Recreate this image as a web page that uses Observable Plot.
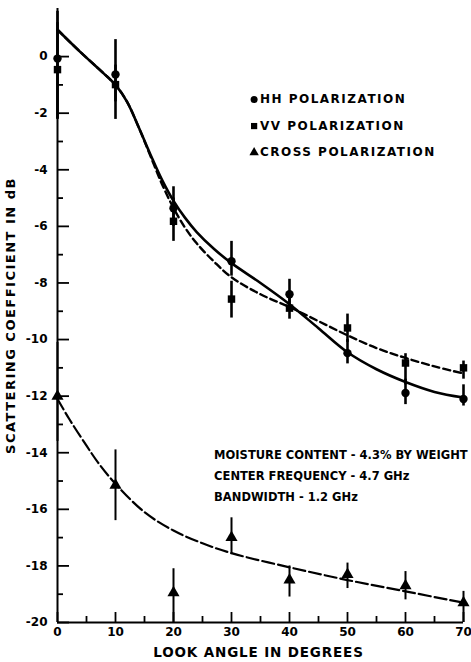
<!DOCTYPE html>
<html><head><meta charset="utf-8">
<script src="https://cdn.jsdelivr.net/npm/d3@7"></script>
<script src="https://cdn.jsdelivr.net/npm/@observablehq/plot@0.6"></script>
<style>
html,body{margin:0;padding:0;background:#fff;overflow:hidden}
</style>
</head><body><div id="chart"></div>
<script>
// measured look angles (degrees)
const angles = [0, 10, 20, 30, 40, 50, 60, 70];
// HH polarization (dB) with error bar extents
const hhValues = [-0.07, -0.63, -5.36, -7.23, -8.40, -10.48, -11.89, -12.10];
const hhHigh   = [1.6, 0.6, -4.6, -6.53, -7.87, -10.0, -11.4, -11.6];
const hhLow    = [-2.2, -1.6, -6.0, -7.76, -8.9, -10.86, -12.3, -12.35];
// VV polarization (dB)
const vvValues = [-0.46, -0.99, -5.82, -8.57, -8.89, -9.59, -10.83, -11.00];
const vvHigh   = [1.2, -0.3, -5.0, -7.94, -8.3, -9.1, -10.5, -10.76];
const vvLow    = [-2.22, -2.22, -6.53, -9.24, -9.28, -10.1, -11.6, -11.4];
// Cross polarization (dB)
const crossValues = [-12.0, -15.15, -18.95, -17.0, -18.5, -18.3, -18.7, -19.3];
const crossHigh   = [-10.1, -13.9, -18.1, -16.3, -18.0, -17.9, -18.2, -18.9];
const crossLow    = [-13.6, -16.4, -20.0, -17.6, -19.1, -18.8, -19.2, -20.0];
// fitted curves
const hhCurveX = [0, 4, 8, 10, 12, 14, 16, 18, 20, 22, 24, 27, 30, 35, 40, 45, 50, 55, 60, 65, 70];
const hhCurveY = [0.95, 0.15, -0.6, -1.0, -1.6, -2.5, -3.45, -4.35, -5.1, -5.7, -6.2, -6.8, -7.3, -8.0, -8.75, -9.6, -10.45, -11.05, -11.5, -11.85, -12.05];
const vvCurveX = [0, 4, 8, 10, 12, 14, 16, 18, 20, 22, 24, 27, 30, 35, 40, 45, 50, 55, 60, 65, 70];
const vvCurveY = [0.95, 0.15, -0.6, -1.0, -1.6, -2.5, -3.5, -4.5, -5.35, -6.05, -6.6, -7.25, -7.8, -8.4, -8.85, -9.35, -9.85, -10.3, -10.65, -10.95, -11.2];
const crossCurveX = [0, 2, 5, 7, 10, 15, 20, 25, 30, 40, 50, 60, 70];
const crossCurveY = [-12.1, -12.8, -13.75, -14.35, -15.1, -16.1, -16.75, -17.2, -17.55, -18.05, -18.5, -18.9, -19.3];
// ticks
const xMajorTicks = [0, 10, 20, 30, 40, 50, 60, 70];
const xMinorTicks = [5, 15, 25, 35, 45, 55, 65];
const yMajorTicks = [0, -2, -4, -6, -8, -10, -12, -14, -16, -18, -20];
const yMinorTicks = [-1, -3, -5, -7, -9, -11, -13, -15, -17, -19];
// text
const legendLabels = ["HH POLARIZATION", "VV POLARIZATION", "CROSS POLARIZATION"];
const legendSymbols = ["circle", "square", "triangle"];
const noteLines = ["MOISTURE CONTENT - 4.3% BY WEIGHT", "CENTER FREQUENCY - 4.7 GHz", "BANDWIDTH - 1.2 GHz"];
const xLabel = "LOOK ANGLE IN DEGREES";
const yLabel = "SCATTERING COEFFICIENT IN dB";

const pts = (vals, hi, lo) => angles.map((a, i) => ({a, v: vals[i], hi: hi[i], lo: lo[i]}));
const hh = pts(hhValues, hhHigh, hhLow);
const vv = pts(vvValues, vvHigh, vvLow);
const cross = pts(crossValues, crossHigh, crossLow);
const curve = (xs, ys) => xs.map((x, i) => ({x, y: ys[i]}));
const legend = legendLabels.map((label, i) => ({label, symbol: legendSymbols[i], i}));

const W = 471, H = 660, mL = 57, mR = 8, mT = 8, mB = 38;
const xDomain = [0, 70], yDomain = [-20, 1.7];
// tick lengths expressed in data units from pixel lengths
const xPerPx = (xDomain[1] - xDomain[0]) / (W - mL - mR);
const yPerPx = (yDomain[1] - yDomain[0]) / (H - mT - mB);

const chart = Plot.plot({
  width: W, height: H,
  marginLeft: mL, marginRight: mR, marginTop: mT, marginBottom: mB,
  style: {fontFamily: "DejaVu Sans", fontWeight: "bold", fontSize: "12px", color: "#000", background: "#fff"},
  x: {domain: xDomain},
  y: {domain: yDomain},
  symbol: {type: "identity"},
  marks: [
    // curves
    Plot.line(curve(hhCurveX, hhCurveY), {x: "x", y: "y", curve: "catmull-rom", strokeWidth: 2.6}),
    Plot.line(curve(vvCurveX, vvCurveY), {x: "x", y: "y", curve: "catmull-rom", strokeWidth: 2.4, strokeDasharray: "7,4"}),
    Plot.line(curve(crossCurveX, crossCurveY), {x: "x", y: "y", curve: "catmull-rom", strokeWidth: 2.2, strokeDasharray: "12,4"}),
    // error bars
    Plot.ruleX(hh, {x: "a", y1: "lo", y2: "hi", strokeWidth: 2.6}),
    Plot.ruleX(vv, {x: "a", y1: "lo", y2: "hi", strokeWidth: 2.6}),
    Plot.ruleX(cross, {x: "a", y1: "lo", y2: "hi", strokeWidth: 2}),
    // points
    Plot.dot(hh, {x: "a", y: "v", r: 4.2, fill: "#000", symbol: "circle"}),
    Plot.dot(vv, {x: "a", y: "v", r: 4.2, fill: "#000", symbol: "square"}),
    Plot.dot(cross, {x: "a", y: "v", r: 4.5, fill: "#000", symbol: "triangle"}),
    // axes lines and inward ticks
    Plot.ruleX([0], {strokeWidth: 2}),
    Plot.ruleY([-20], {strokeWidth: 2}),
    Plot.ruleX(xMajorTicks, {x: d => d, y1: yDomain[0], y2: yDomain[0] + 10 * yPerPx, strokeWidth: 1.8}),
    Plot.ruleX(xMinorTicks, {x: d => d, y1: yDomain[0], y2: yDomain[0] + 6 * yPerPx, strokeWidth: 1.8}),
    Plot.ruleY(yMajorTicks, {y: d => d, x1: 0, x2: 12 * xPerPx, strokeWidth: 1.8}),
    Plot.ruleY(yMinorTicks, {y: d => d, x1: 0, x2: 6 * xPerPx, strokeWidth: 1.8}),
    // tick labels
    Plot.axisX(xMajorTicks, {tickSize: 0, tickPadding: 5, fontSize: 12, label: null}),
    Plot.axisY(yMajorTicks, {tickSize: 0, tickPadding: 10, fontSize: 12, label: null, tickFormat: d => d}),
    // legend
    Plot.dot(legend, {x: 33.9, y: d => -1.52 - d.i * 0.935, symbol: "symbol", r: 3.5, fill: "#000"}),
    Plot.text(legend, {x: 34.9, y: d => -1.52 - d.i * 0.935, text: "label", textAnchor: "start", fontSize: 12, fontWeight: "bold"}),
    // annotation
    Plot.text([noteLines.join("\n")], {x: 27, y: -13.72, text: d => d, textAnchor: "start", lineAnchor: "top", lineHeight: 1.8, fontSize: 11.5, fontWeight: "bold"}),
    // axis titles
    Plot.text([xLabel], {frameAnchor: "bottom", textAnchor: "middle", dy: 34, dx: -2, text: d => d, fontSize: 13.5, fontWeight: "bold"}),
    Plot.text([yLabel], {frameAnchor: "left", textAnchor: "middle", dx: -47, dy: 0, rotate: -90, text: d => d, fontSize: 13, fontWeight: "bold"})
  ]
});
chart.querySelectorAll("text").forEach(t => {
  const s = t.textContent;
  if (legendLabels.includes(s)) t.style.letterSpacing = "1.5px";
  else if (s === xLabel) t.style.letterSpacing = "0.85px";
  else if (s === yLabel) t.style.letterSpacing = "1.5px";
});
document.getElementById("chart").appendChild(chart);
</script>
</body></html>
